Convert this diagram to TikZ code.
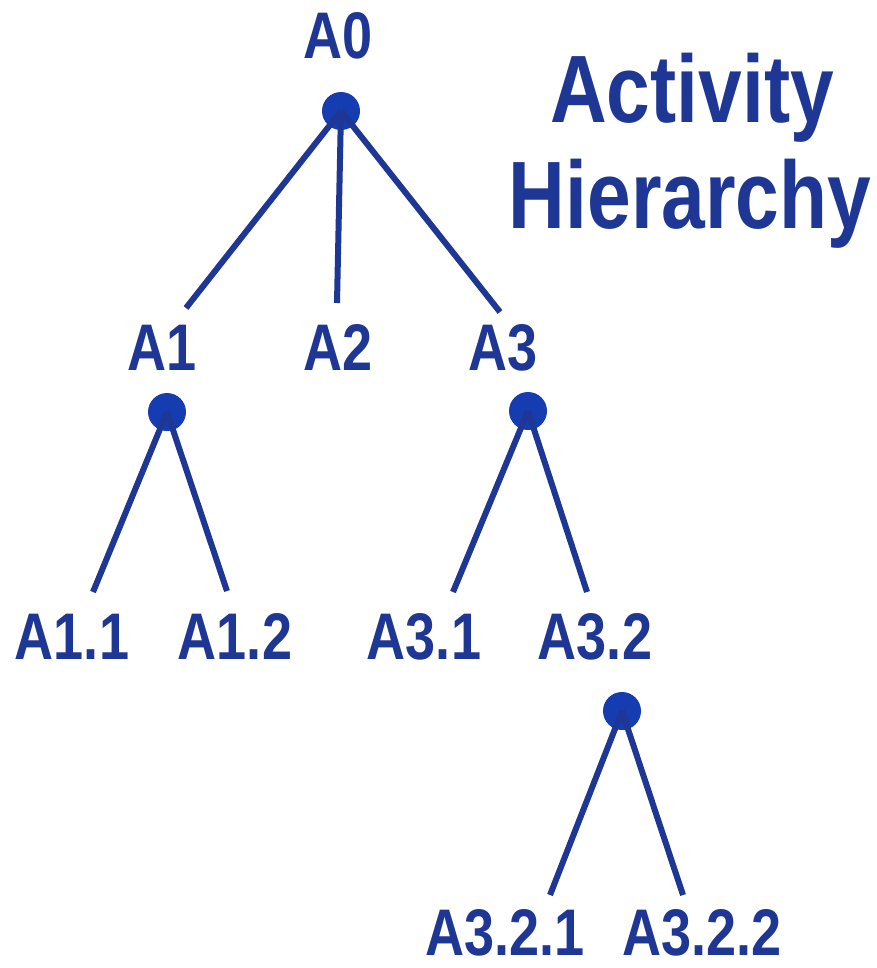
\documentclass[tikz,border=0pt]{standalone}
\usepackage{fontspec}
\newfontfamily\hfont[FakeStretch=0.82]{Liberation Sans}
\definecolor{hblue}{RGB}{30,54,148}
\definecolor{hdot}{RGB}{22,60,178}

\begin{document}
\begin{tikzpicture}[x=0.2mm,y=-0.2mm,inner sep=0mm,hblue,line width=1.2mm,
				dot/.style={circle,fill=hdot,minimum size=7.6mm},
				lbl/.style={anchor=base,font=\hfont\bfseries\fontsize{37.5}{40}\selectfont},
				ttl/.style={anchor=base,font=\hfont\bfseries\fontsize{54.5}{60}\selectfont}]
				
				\useasboundingbox (0,0) rectangle (877,968);
				
				% labels
				\node at (338,58) [lbl] (a0) {A0};
				\foreach \nm/\x/\y/\txt in {a1/162/370/A1,a2/338/370/A2,a3/503/370/A3,
					a11/72/659/A1.1,a12/235/659/A1.2,a31/424/659/A3.1,a32/595/659/A3.2,
					a321/505/955/A3.2.1,a322/702/955/A3.2.2}{
					\node at (\x,\y) [lbl] (\nm) {\txt};
				};
				
				\node at (692,122) [ttl] (act) {Activity};
				\node at (690,228) [ttl] (hier) {Hierarchy};
				
				% branch points
				\foreach \nm/\x/\y in {d0/341/111,d1/167/412,d3/528/411,d32/622/711}{
					\node at (\x,\y) [dot] (\nm) {};
				};
				
				% line ends above the labels
				\foreach \nm/\x/\y in {t1/186/308,t2/337/303,t3/500/312,
					t11/93/592,t12/227/591,t31/453/592,t32/587/592,
					t321/550/895,t322/683/895}{
					\coordinate (\nm) at (\x,\y);
				};
				
				\foreach \d/\t in {d0/t1,d0/t2,d0/t3,d1/t11,d1/t12,d3/t31,d3/t32,d32/t321,d32/t322}{
					\path (\d.center) edge (\t);
				};
				
			\end{tikzpicture}
\end{document}
